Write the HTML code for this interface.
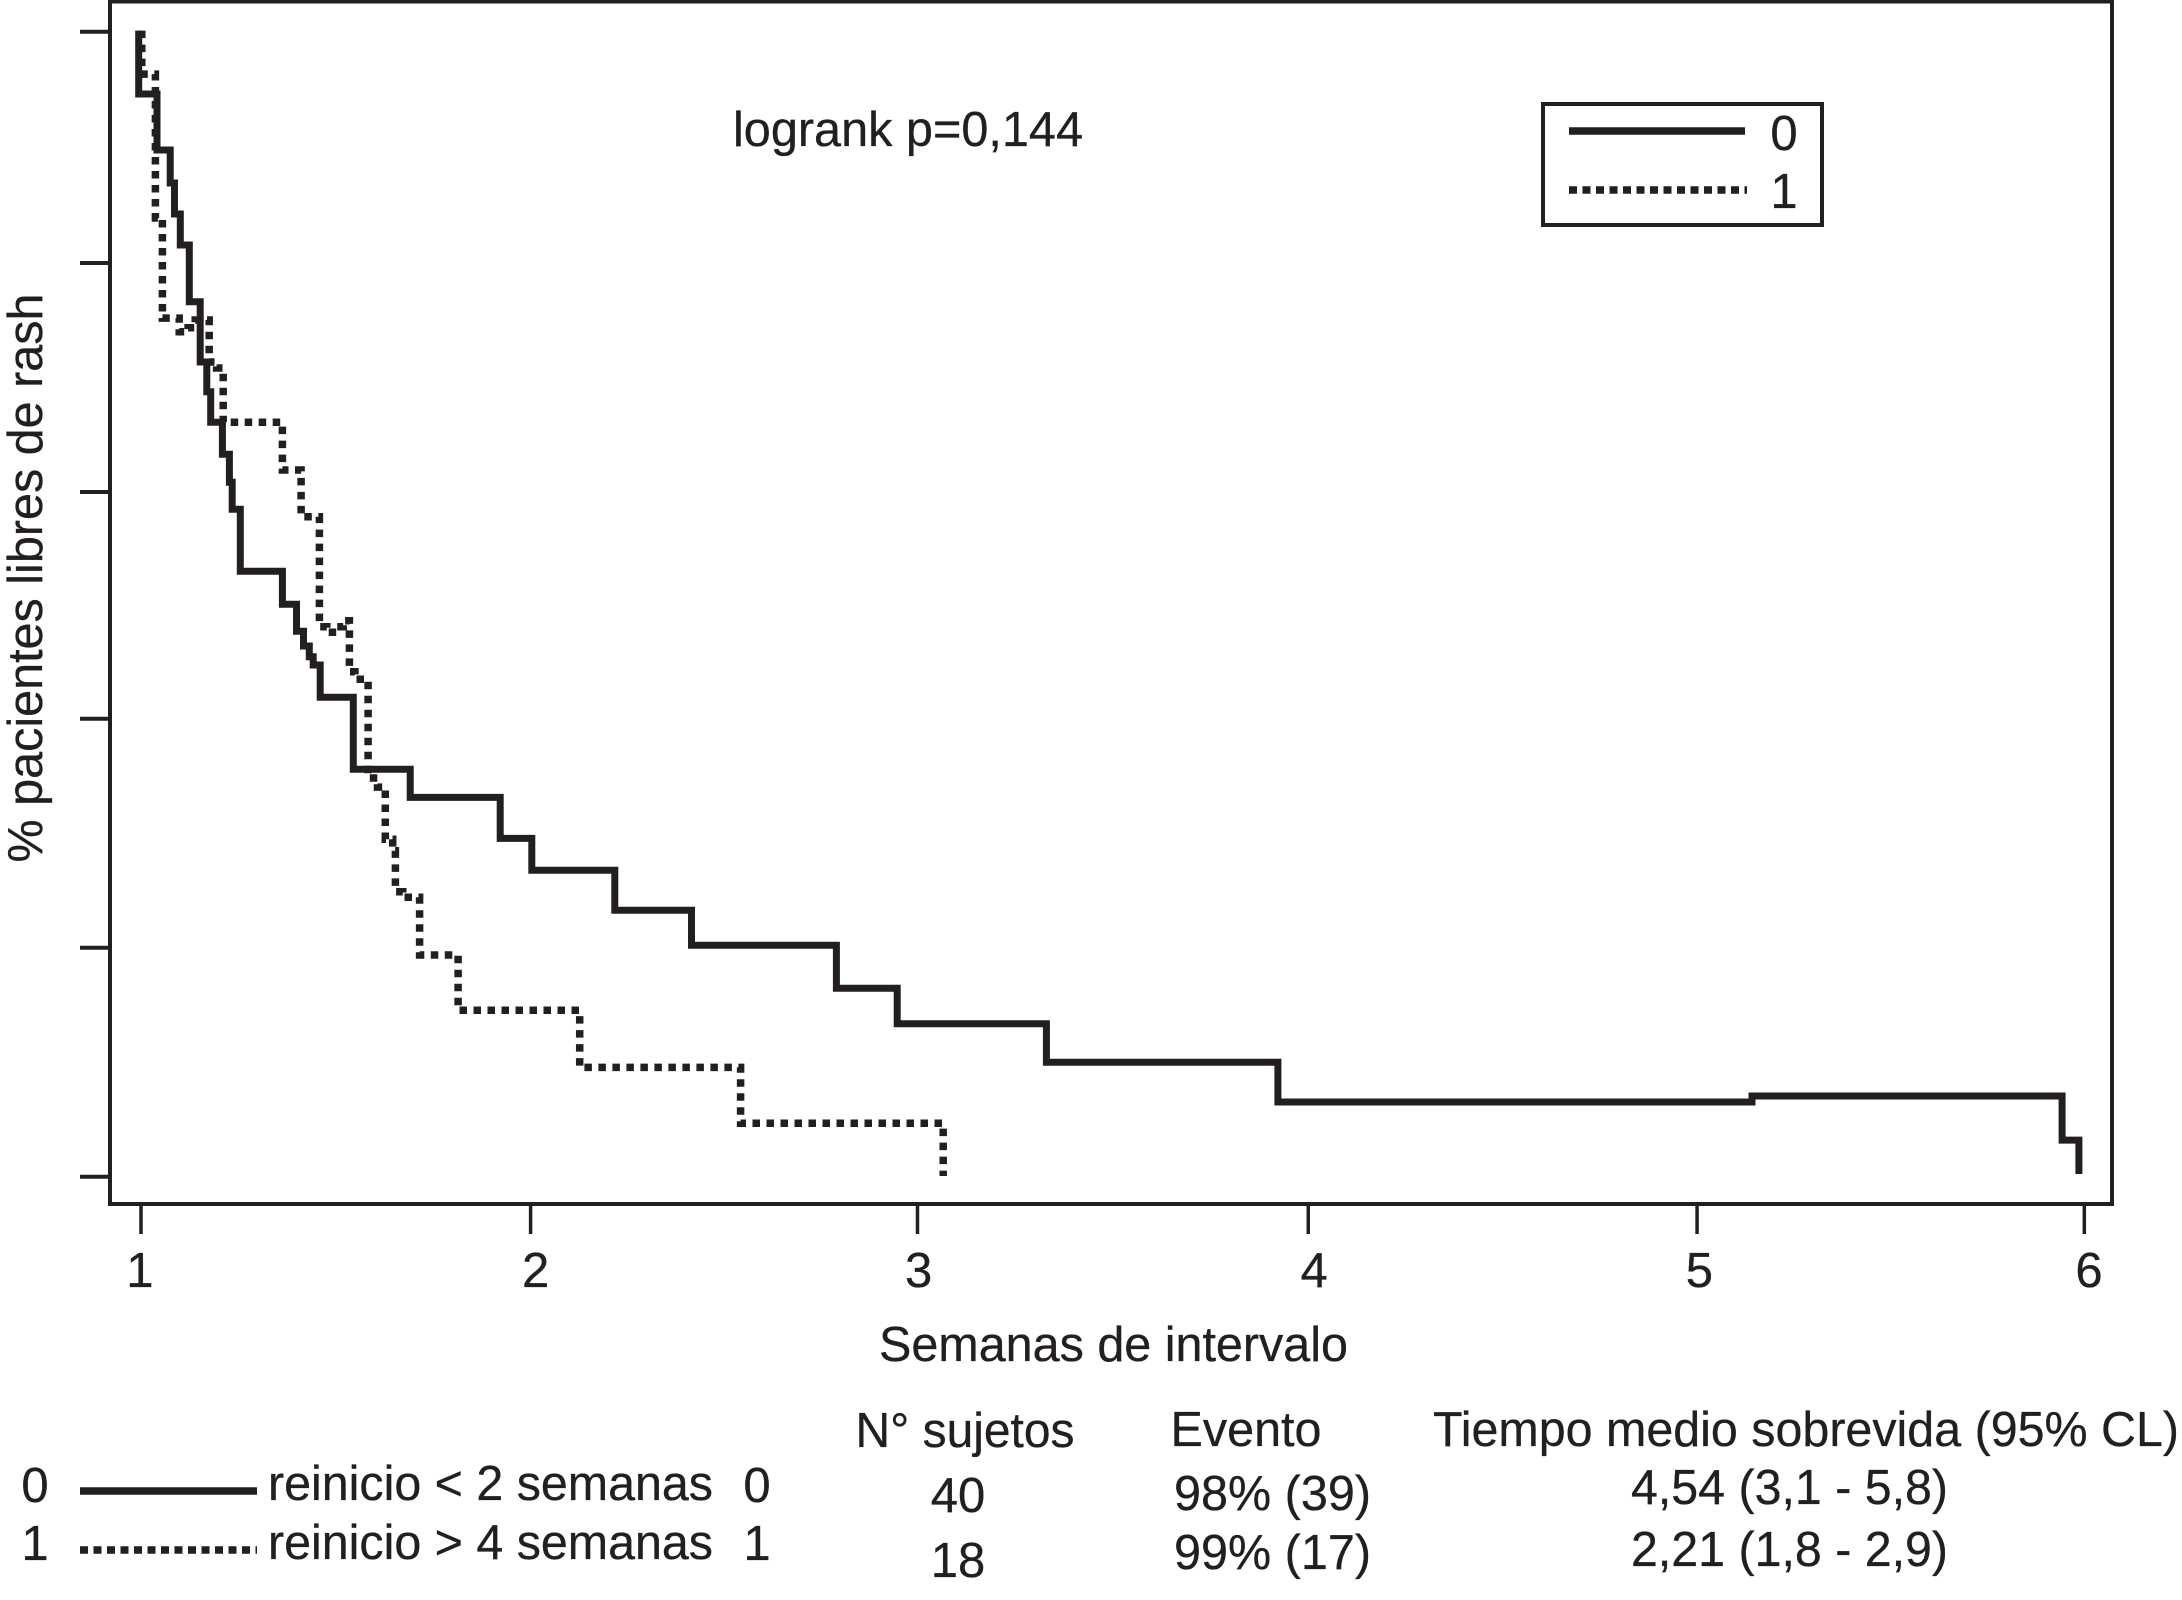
<!DOCTYPE html>
<html lang="es">
<head>
<meta charset="utf-8">
<title>Curva de supervivencia libre de rash</title>
<style>
html,body{margin:0;padding:0;background:#fff;width:2182px;height:1600px;overflow:hidden}
svg{display:block}
text{font-family:"Liberation Sans",sans-serif;font-size:49px;fill:#231f20;stroke:#231f20;stroke-width:0.3}
</style>
</head>
<body>
<svg id="chart" xmlns="http://www.w3.org/2000/svg" width="2182" height="1600" viewBox="0 0 2182 1600">
  <rect x="0" y="0" width="2182" height="1600" fill="#fff"/>
  <rect x="110" y="1.5" width="2002" height="1202.5" fill="none" stroke="#231f20" stroke-width="4"/>
  <g id="y-ticks"></g>
  <g id="x-ticks"></g>
  <g id="x-labels"></g>
  <g id="curves"></g>

  <text x="733" y="146" textLength="350" lengthAdjust="spacingAndGlyphs">logrank p=0,144</text>

  <g>
    <rect x="1543" y="104" width="279" height="121" fill="#fff" stroke="#231f20" stroke-width="4"/>
    <line x1="1569" y1="131" x2="1745" y2="131" stroke="#231f20" stroke-width="7.5"/>
    <text x="1784" y="150" text-anchor="middle">0</text>
    <line x1="1569" y1="190" x2="1747" y2="190" stroke="#231f20" stroke-width="7.5" stroke-dasharray="8 5.5"/>
    <text x="1784" y="208" text-anchor="middle">1</text>
  </g>

  <text transform="translate(42,578) rotate(-90)" text-anchor="middle" textLength="569" lengthAdjust="spacingAndGlyphs">% pacientes libres de rash</text>
  <text x="879" y="1361" textLength="469" lengthAdjust="spacingAndGlyphs">Semanas de intervalo</text>

  <g>
    <text x="35" y="1502" text-anchor="middle">0</text>
    <line x1="80" y1="1491" x2="257" y2="1491" stroke="#231f20" stroke-width="7.5"/>
    <text x="268" y="1500" textLength="445" lengthAdjust="spacingAndGlyphs">reinicio &lt; 2 semanas</text>
    <text x="757" y="1502" text-anchor="middle">0</text>
    <text x="35" y="1560" text-anchor="middle">1</text>
    <line x1="80" y1="1550" x2="257" y2="1550" stroke="#231f20" stroke-width="7.5" stroke-dasharray="8 5.5"/>
    <text x="268" y="1559" textLength="445" lengthAdjust="spacingAndGlyphs">reinicio &gt; 4 semanas</text>
    <text x="757" y="1560" text-anchor="middle">1</text>
  </g>

  <g>
    <text x="855.5" y="1447" textLength="219" lengthAdjust="spacingAndGlyphs">N° sujetos</text>
    <text x="1170.5" y="1446" textLength="151" lengthAdjust="spacingAndGlyphs">Evento</text>
    <text x="1433" y="1446" textLength="746" lengthAdjust="spacingAndGlyphs">Tiempo medio sobrevida (95% CL)</text>
    <text x="958" y="1512" text-anchor="middle">40</text>
    <text x="958" y="1577" text-anchor="middle">18</text>
    <text x="1174" y="1510" textLength="197" lengthAdjust="spacingAndGlyphs">98% (39)</text>
    <text x="1174" y="1569" textLength="197" lengthAdjust="spacingAndGlyphs">99% (17)</text>
    <text x="1631" y="1504" textLength="317" lengthAdjust="spacingAndGlyphs">4,54 (3,1 - 5,8)</text>
    <text x="1631" y="1566" textLength="317" lengthAdjust="spacingAndGlyphs">2,21 (1,8 - 2,9)</text>
  </g>
</svg>
<script>
var xTickWeeks = [1, 2, 2.993, 3.996, 4.994, 5.988];
var xLabelWeeks = [0.997, 2.013, 2.996, 4.011, 5, 6];
var xLabels = ["1", "2", "3", "4", "5", "6"];
var yTickPercents = [100, 79.8, 59.8, 40, 20, 0];

var weeksGroup0 = [0.994, 0.994, 1.041, 1.075, 1.086, 1.101, 1.124, 1.152, 1.169, 1.179, 1.209, 1.227, 1.234, 1.255, 1.363, 1.399, 1.417, 1.432, 1.442, 1.46, 1.545, 1.691, 1.922, 2.003, 2.216, 2.413, 2.785, 2.941, 3.324, 3.918, 5.135, 5.931, 5.974];
var survivalGroup0 = [100.1, 94.56, 89.67, 86.79, 84.08, 81.37, 76.42, 71.15, 68.56, 65.89, 63.09, 60.65, 58.29, 52.87, 49.99, 47.63, 46.35, 45.41, 44.69, 41.87, 35.58, 33.13, 29.55, 26.76, 23.27, 20.21, 16.45, 13.36, 9.99, 6.52, 7.05, 3.2, 0.24];

var weeksGroup1 = [1.002, 1.002, 1.037, 1.055, 1.098, 1.121, 1.139, 1.175, 1.194, 1.211, 1.363, 1.411, 1.458, 1.477, 1.502, 1.519, 1.535, 1.549, 1.583, 1.607, 1.627, 1.646, 1.653, 1.672, 1.715, 1.814, 2.126, 2.539, 3.059];
var survivalGroup1 = [100.1, 96.3, 83.73, 74.99, 73.8, 74.15, 74.82, 71.15, 70.63, 65.89, 61.72, 57.64, 48.03, 47.55, 48.03, 48.56, 44.1, 43.44, 34.82, 34.03, 29.47, 28.47, 24.89, 24.4, 19.36, 14.53, 9.55, 4.66, 0.06];

var SVG_NS = "http://www.w3.org/2000/svg";
var INK = "#231f20";

function xScale(week) { return 141 + (week - 1) * 389.6; }
function yScale(percent) { return 1176.7 - percent * 11.45; }

function stepPath(weeks, survival) {
  var d = "M" + xScale(weeks[0]).toFixed(1) + " " + yScale(survival[0]).toFixed(1);
  for (var i = 1; i < weeks.length; i++) {
    d += "H" + xScale(weeks[i]).toFixed(1) + "V" + yScale(survival[i]).toFixed(1);
  }
  return d;
}

var yTickLayer = document.getElementById("y-ticks");
yTickPercents.forEach(function (p) {
  var tick = document.createElementNS(SVG_NS, "line");
  
  
  tick.setAttribute("x1", 80);
  tick.setAttribute("x2", 110);
  tick.setAttribute("y1", yScale(p));
  tick.setAttribute("y2", yScale(p));
  tick.setAttribute("stroke", INK);
  tick.setAttribute("stroke-width", 4);
  yTickLayer.appendChild(tick);
});

var xTickLayer = document.getElementById("x-ticks");
xTickWeeks.forEach(function (w) {
  var tick = document.createElementNS(SVG_NS, "line");
  
  
  tick.setAttribute("x1", xScale(w));
  tick.setAttribute("x2", xScale(w));
  tick.setAttribute("y1", 1204);
  tick.setAttribute("y2", 1234);
  tick.setAttribute("stroke", INK);
  tick.setAttribute("stroke-width", 3.5);
  xTickLayer.appendChild(tick);
});

var xLabelLayer = document.getElementById("x-labels");
xLabels.forEach(function (label, i) {
  var t = document.createElementNS(SVG_NS, "text");
  
  
  t.setAttribute("x", xScale(xLabelWeeks[i]));
  t.setAttribute("y", 1287);
  t.setAttribute("text-anchor", "middle");
  t.textContent = label;
  xLabelLayer.appendChild(t);
});

var curveLayer = document.getElementById("curves");

var curve1 = document.createElementNS(SVG_NS, "path");


curve1.setAttribute("d", stepPath(weeksGroup1, survivalGroup1));
curve1.setAttribute("fill", "none");
curve1.setAttribute("stroke", INK);
curve1.setAttribute("stroke-width", 7.5);
curve1.setAttribute("stroke-dasharray", "7.5 6.5");
curveLayer.appendChild(curve1);

var curve0 = document.createElementNS(SVG_NS, "path");


curve0.setAttribute("d", stepPath(weeksGroup0, survivalGroup0));
curve0.setAttribute("fill", "none");
curve0.setAttribute("stroke", INK);
curve0.setAttribute("stroke-width", 7);
curve0.setAttribute("stroke-linejoin", "miter");
curveLayer.appendChild(curve0);
</script>
</body>
</html>
